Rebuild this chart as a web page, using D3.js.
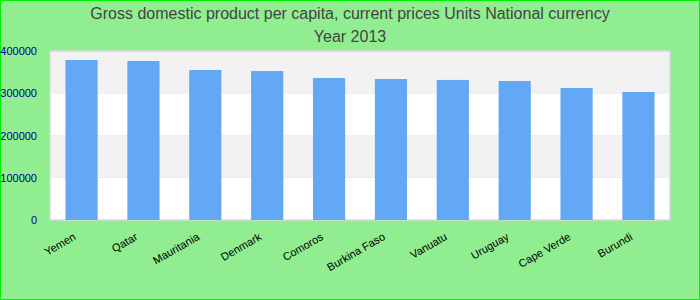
<html>
<head>
<meta charset="utf-8">
<script src="https://cdn.jsdelivr.net/npm/d3@7"></script>
<style>
  body { margin: 0; background: #90ee90; }
  svg { display: block; font-family: "Liberation Sans", Arial, sans-serif; }
</style>
</head>
<body>
<div id="viz"></div>
<script>
var countries = ["Yemen", "Qatar", "Mauritania", "Denmark", "Comoros", "Burkina Faso", "Vanuatu", "Uruguay", "Cape Verde", "Burundi"];
var gdp = [378700, 376300, 355000, 352600, 336000, 333700, 331500, 329000, 312400, 303000];
var yTicks = [0, 100000, 200000, 300000, 400000];
var titleLines = ["Gross domestic product per capita, current prices Units National currency", "Year 2013"];

var width = 700, height = 300;
var m = { left: 50, right: 30, top: 51, bottom: 80 };

var svg = d3.select("#viz").append("svg")
    .attr("width", width)
    .attr("height", height);

svg.append("rect")
    .attr("x", 0.5).attr("y", 0.5)
    .attr("width", width - 1).attr("height", height - 1)
    .attr("fill", "#90ee90")
    .attr("stroke", "#00f000");

var x = d3.scaleBand().domain(countries)
    .range([m.left, width - m.right])
    .paddingInner(0.48).paddingOuter(0.25);
var y = d3.scaleLinear().domain([0, 400000])
    .range([height - m.bottom, m.top]);

// alternating bands
svg.append("g").selectAll("rect")
    .data(yTicks.slice(0, -1))
    .join("rect")
    .attr("x", m.left)
    .attr("width", width - m.left - m.right)
    .attr("y", function(d) { return y(d + 100000); })
    .attr("height", function(d) { return y(d) - y(d + 100000); })
    .attr("fill", function(d, i) { return i % 2 ? "#f2f2f2" : "#ffffff"; });

svg.append("rect")
    .attr("x", m.left).attr("y", y(400000))
    .attr("width", width - m.left - m.right)
    .attr("height", y(0) - y(400000))
    .attr("fill", "none")
    .attr("stroke", "#d8d8d8")
    .attr("stroke-width", 1.5);

svg.append("g").selectAll("rect.bar")
    .data(gdp)
    .join("rect")
    .attr("class", "bar")
    .attr("x", function(d, i) { return x(countries[i]); })
    .attr("width", x.bandwidth())
    .attr("y", function(d) { return y(d); })
    .attr("height", function(d) { return y(0) - y(d); })
    .attr("fill", "#62a8f5");

var yAxis = svg.append("g")
    .attr("transform", "translate(" + (m.left - 10) + ",0)")
    .call(d3.axisLeft(y).tickValues(yTicks).tickSize(0).tickFormat(d3.format("d")));
yAxis.select(".domain").remove();
yAxis.selectAll("text")
    .attr("fill", "#00008b")
    .style("font-size", "11px")
    .attr("dx", "0");

var xAxis = svg.append("g")
    .attr("transform", "translate(0," + (height - m.bottom) + ")")
    .call(d3.axisBottom(x).tickSize(0));
xAxis.select(".domain").remove();
xAxis.selectAll("text")
    .attr("fill", "#000")
    .style("font-size", "11px")
    .attr("text-anchor", "end")
    .attr("dy", "0")
    .attr("y", 0)
    .attr("transform", "translate(-5,19) rotate(-30)");

svg.append("g").selectAll("text")
    .data(titleLines)
    .join("text")
    .attr("x", width / 2)
    .attr("y", function(d, i) { return 19 + i * 23; })
    .attr("text-anchor", "middle")
    .attr("fill", "#444")
    .style("font-size", "16px")
    .text(function(d) { return d; });
</script>
</body>
</html>
